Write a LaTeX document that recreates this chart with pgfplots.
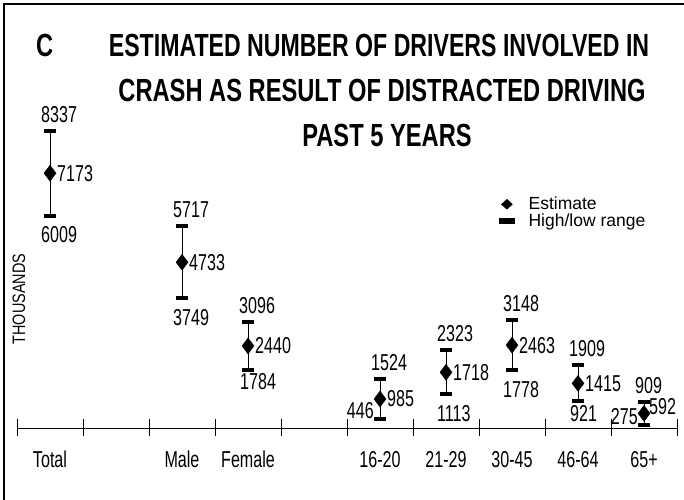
\documentclass[border=0pt]{standalone}
\usepackage{pgfplots}
\pgfplotsset{compat=1.18}
\usepackage{fontspec}
\setmainfont{Liberation Sans}
\newfontfamily\lblfont{Liberation Sans}[FakeStretch=0.70]
\newfontfamily\titlefont{Liberation Sans}[FakeStretch=0.74]
\newfontfamily\titlefontA{Liberation Sans}[FakeStretch=0.723]
\newfontfamily\ylfont{Liberation Sans}[FakeStretch=0.80]

\pgfplotsset{
  lbl/.style={forget plot, only marks, mark=*, mark size=0.01pt, mark options={draw=none, fill=none},
    point meta=explicit symbolic, nodes near coords,
    every node near coord/.append style={inner sep=0pt, text=black,
      font=\lblfont\fontsize{23bp}{27bp}\selectfont, #1}},
}

\begin{document}
\begin{tikzpicture}[x=1bp,y=1bp]
\useasboundingbox (0,0) rectangle (684,500);
\draw[line width=2bp] (4,0) -- (4,496) -- (684,496);
\node[anchor=base west, font=\titlefont\bfseries\fontsize{32bp}{36bp}\selectfont, inner sep=0pt] at (36,443) {C};
\node[anchor=base, font=\titlefontA\bfseries\fontsize{32bp}{36bp}\selectfont, inner sep=0pt] at (379,443) {ESTIMATED NUMBER OF DRIVERS INVOLVED IN};
\node[anchor=base, font=\titlefont\bfseries\fontsize{32bp}{36bp}\selectfont, inner sep=0pt] at (382,398) {CRASH AS RESULT OF DISTRACTED DRIVING};
\node[anchor=base, font=\titlefont\bfseries\fontsize{32bp}{36bp}\selectfont, inner sep=0pt] at (387,353) {PAST 5 YEARS};
\node[rotate=90, anchor=center, font=\ylfont\fontsize{18bp}{20bp}\selectfont, inner sep=0pt] at (19,201) {THOUSANDS};
\begin{axis}[
  at={(17bp,72bp)}, anchor=south west,
  scale only axis, width=660bp, height=360bp,
  xmin=-0.5, xmax=9.5, ymin=192, ymax=10055,
  clip=false,
  axis x line=bottom, x axis line style={-, line width=0.8bp},
  axis y line=none, ytick=\empty,
  xtick={-0.5,0.5,...,9.5}, xticklabels={},
  xtick align=center, major tick length=17bp,
  tick style={black, line width=0.8bp},
  extra x ticks={0,2,3,5,6,7,8,9},
  extra x tick labels={Total,Male,Female,16-20,21-29,30-45,46-64,65+},
  extra x tick style={major tick length=0pt, tick style={draw=none},
     xticklabel style={anchor=base, yshift=-40bp, inner sep=0pt, font=\lblfont\fontsize{23bp}{27bp}\selectfont}},
  legend style={draw=none, fill=none, font=\fontsize{17.5bp}{20bp}\selectfont,
     at={(axis description cs:0.7303,0.6472)}, anchor=north west, inner sep=0pt, row sep=-2bp,
     /tikz/every odd column/.append style={column sep=12bp}},
  legend cell align=left,
]
\addplot[black, only marks, mark=diamond*, mark size=8bp,
  legend image code/.code={\fill[black] (7.5bp,5bp) -- (13bp,0bp) -- (7.5bp,-5bp) -- (2bp,0bp) -- cycle;},
  error bars/.cd, y dir=both, y explicit,
  error bar style={line width=0.8bp, black},
  error mark options={rotate=90, line width=4bp, mark size=6.25bp, black}]
  coordinates {
   (0,7173) -= (0,1164) += (0,1164)
   (2,4733) -= (0,984)  += (0,984)
   (3,2440) -= (0,656)  += (0,656)
   (5,985)  -= (0,539)  += (0,539)
   (6,1718) -= (0,605)  += (0,605)
   (7,2463) -= (0,685)  += (0,685)
   (8,1415) -= (0,494)  += (0,494)
   (9,592)  -= (0,317)  += (0,317)
  };
\addlegendentry{Estimate}
\addlegendimage{legend image code/.code={\fill[black] (0bp,-2.5bp) rectangle (15bp,2.5bp);}}
\addlegendentry{High/low range}
% high values
\addplot[lbl={anchor=south west, xshift=-9bp, yshift=8bp}] coordinates {
  (0,8337) [8337] (2,5717) [5717] (3,3096) [3096] (5,1524) [1524]
  (6,2323) [2323] (7,3148) [3148] (8,1909) [1909] (9,909) [909]};
% low values
\addplot[lbl={anchor=north west, xshift=-9bp, yshift=-11bp}] coordinates {
  (0,6009) [6009] (2,3749) [3749] (6,1113) [1113] (7,1778) [1778]};
\addplot[lbl={anchor=north west, xshift=-8bp, yshift=-3.5bp}] coordinates {
  (3,1784) [1784] (8,921) [921]};
\addplot[lbl={anchor=south east, xshift=-6bp, yshift=0bp}] coordinates {
  (5,446) [446] (9,275) [275]};
% estimates
\addplot[lbl={anchor=west, xshift=7bp}] coordinates {
  (0,7173) [7173] (2,4733) [4733] (3,2440) [2440] (5,985) [985]
  (6,1718) [1718] (7,2463) [2463] (8,1415) [1415]};
\addplot[lbl={anchor=west, xshift=5bp, yshift=7bp}] coordinates {(9,592) [592]};
\end{axis}
\end{tikzpicture}
\end{document}
